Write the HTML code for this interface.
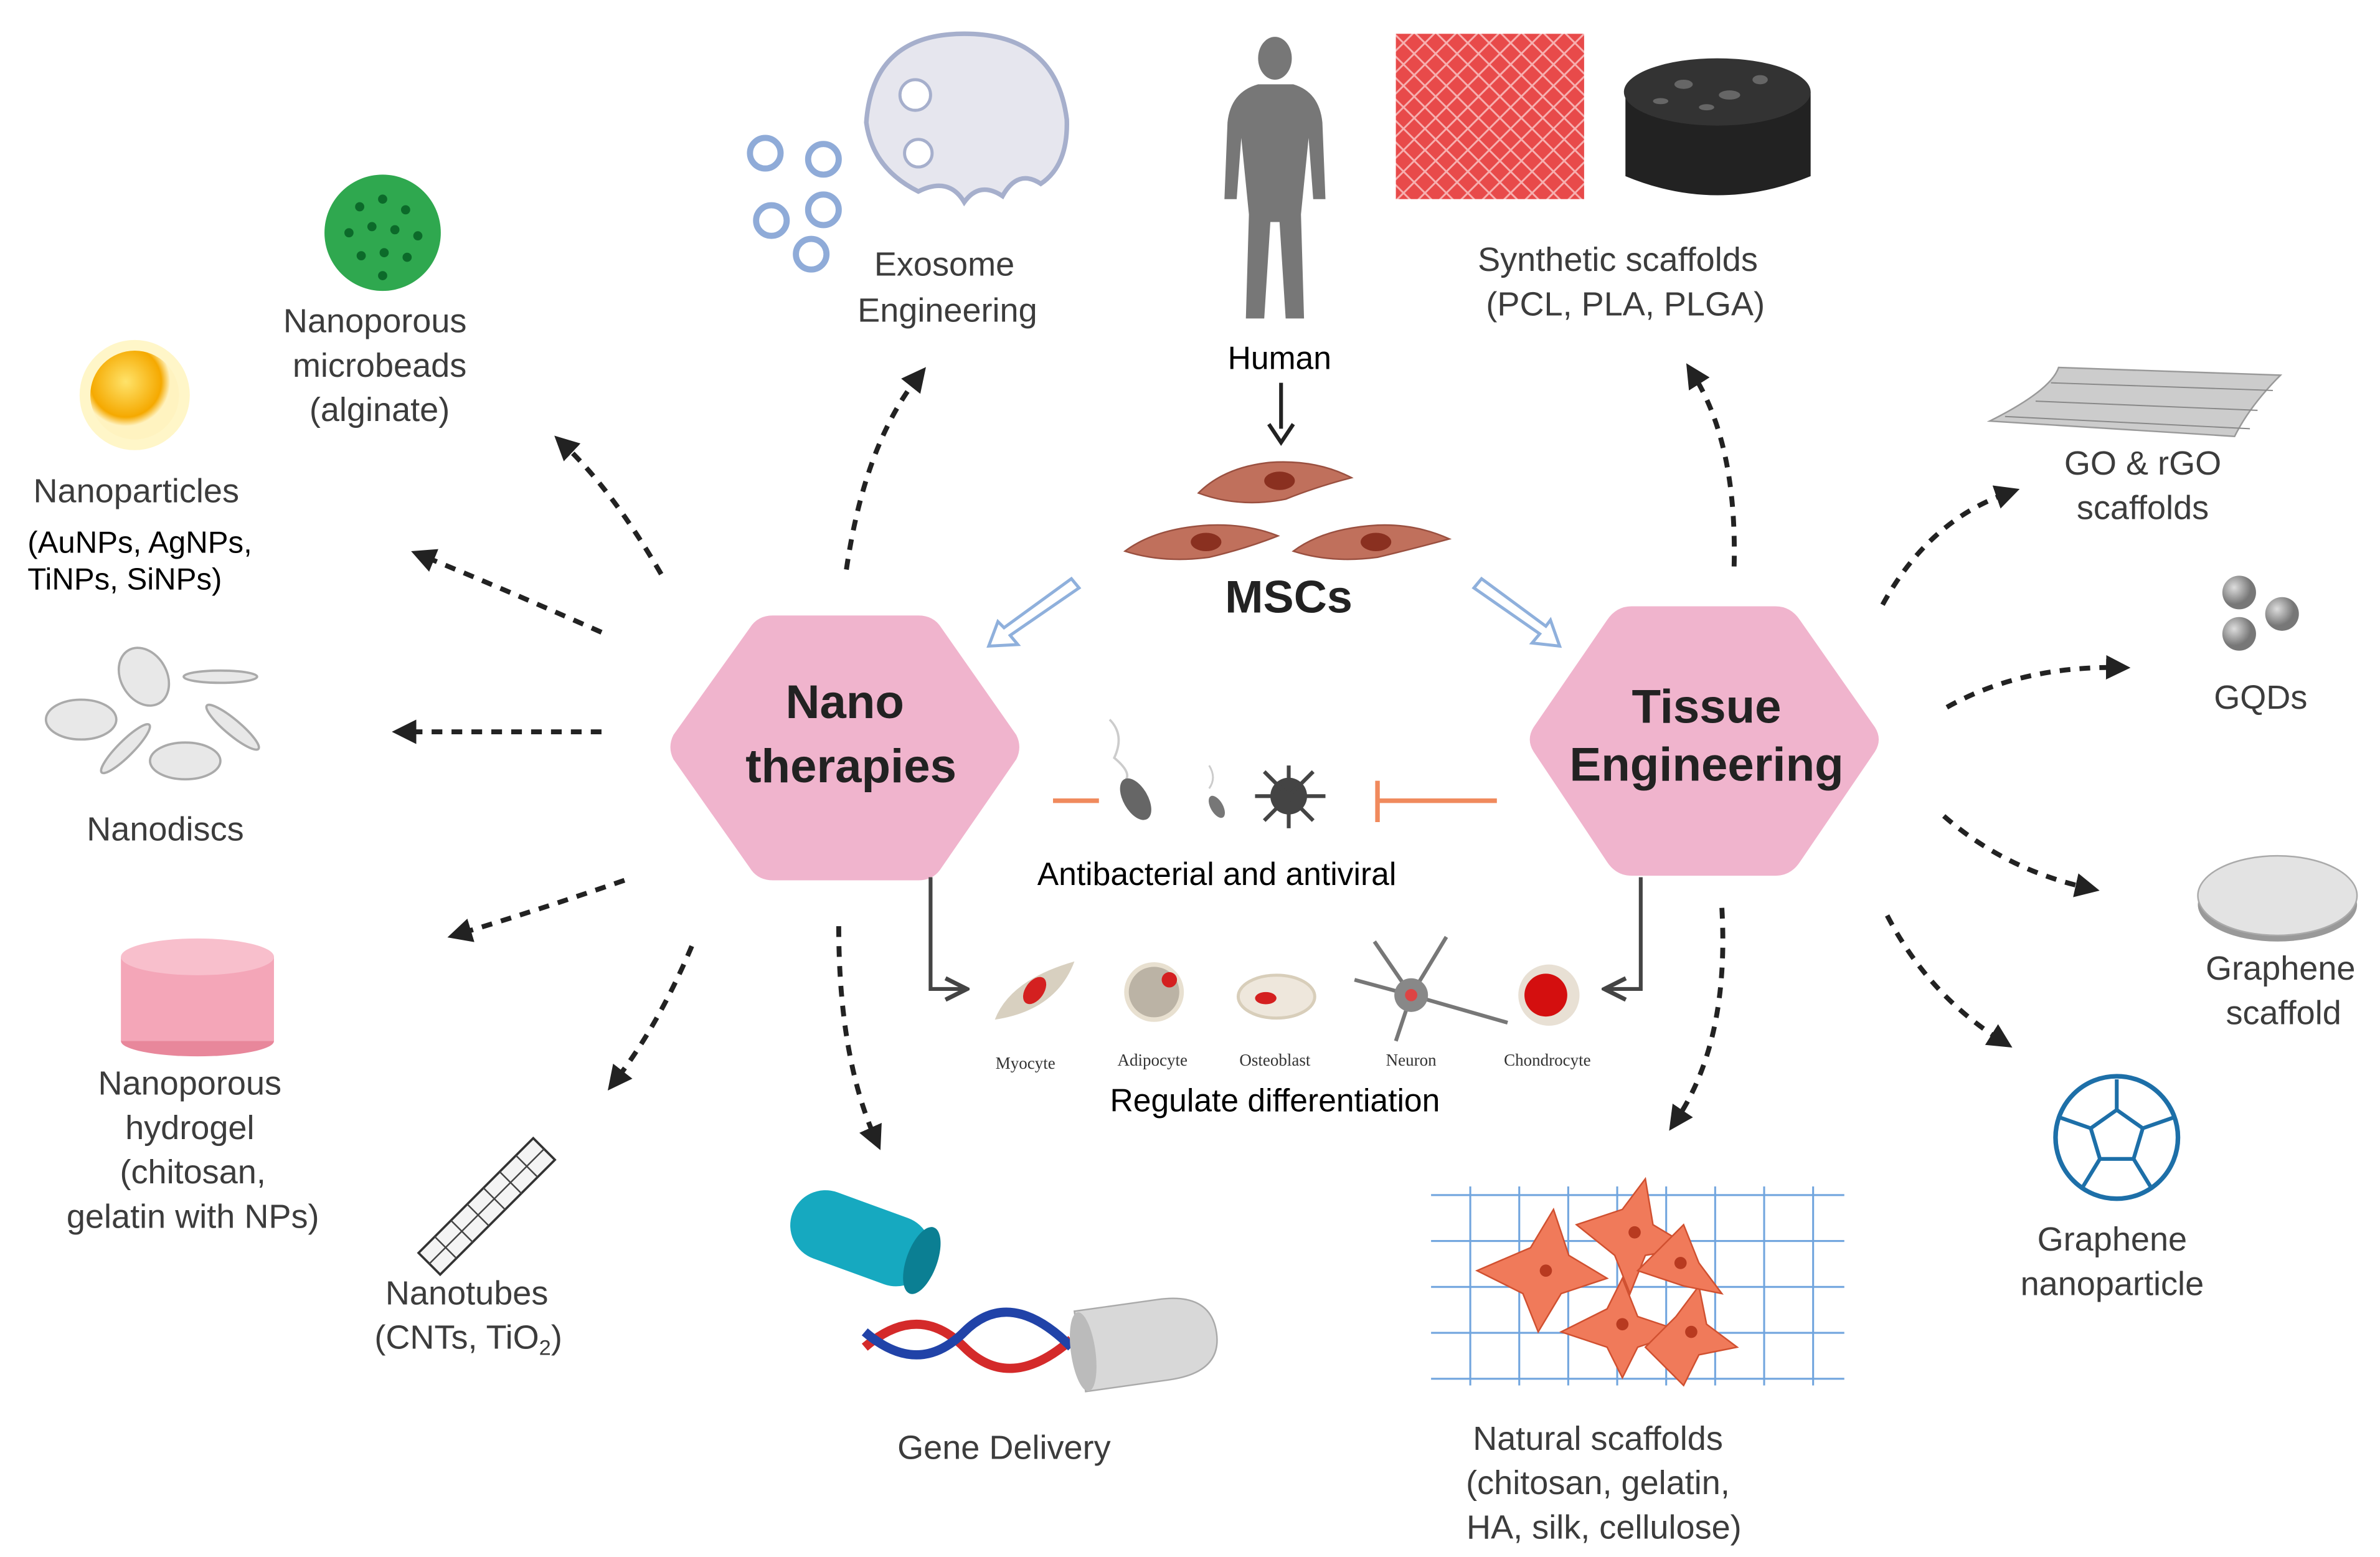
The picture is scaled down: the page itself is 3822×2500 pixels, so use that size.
<!DOCTYPE html>
<html><head><meta charset="utf-8"><style>
html,body{margin:0;padding:0;background:#fff;}
svg{display:block;}
.l{font-family:"Liberation Sans",sans-serif;font-size:22px;fill:#3c3c3c;text-anchor:middle;}
.b{font-family:"Liberation Sans",sans-serif;font-size:21px;fill:#000;text-anchor:middle;}
.s{font-family:"Liberation Serif",serif;font-size:11px;fill:#333;text-anchor:middle;}
.h{font-family:"Liberation Sans",sans-serif;font-size:31px;font-weight:bold;fill:#222;text-anchor:middle;}
.d{fill:none;stroke:#222;stroke-width:3.2;stroke-dasharray:7 6;}
</style></head><body>
<svg width="3822" height="2500" viewBox="0 0 1555 1017" xmlns="http://www.w3.org/2000/svg">
<defs>
<marker id="ah" viewBox="0 0 10 10" refX="5" refY="5" markerWidth="5" markerHeight="5" orient="auto"><path d="M0,0 L10,5 L0,10 Z" fill="#222"/></marker>
<marker id="oa" viewBox="0 0 10 10" refX="8" refY="5" markerWidth="7" markerHeight="7" orient="auto"><path d="M1,1 L9,5 L1,9" fill="none" stroke="#444" stroke-width="1.6"/></marker>
<pattern id="mesh" width="14" height="14" patternUnits="userSpaceOnUse"><rect width="14" height="14" fill="#e84a4a"/><path d="M0,7 L7,0 L14,7 L7,14 Z" fill="none" stroke="#f7b0b0" stroke-width="1.2"/></pattern>
<pattern id="grid" width="32" height="30" patternUnits="userSpaceOnUse"><path d="M0,0 H32 M0,0 V30" stroke="#4d8fd6" stroke-width="2.5" fill="none"/></pattern>
<radialGradient id="gy" cx="40%" cy="35%"><stop offset="0" stop-color="#ffe36a"/><stop offset="0.8" stop-color="#f5a900"/><stop offset="1" stop-color="#fff3c0"/></radialGradient>
<radialGradient id="gs" cx="35%" cy="35%"><stop offset="0" stop-color="#ddd"/><stop offset="1" stop-color="#777"/></radialGradient>
</defs>

<!-- hexagons -->
<path d="M440,480 L490,410 Q495,402 505,402 L600,402 Q610,402 615,410 L664,480 Q668,488 664,496 L615,567 Q610,575 600,575 L505,575 Q495,575 490,567 L440,496 Q436,488 440,480Z" fill="#f0b4cd"/>
<text class="h" x="552" y="469">Nano</text><text class="h" x="556" y="511">therapies</text>
<path d="M1002,475 L1050,405 Q1056,396 1066,396 L1160,396 Q1170,396 1176,405 L1225,475 Q1230,483 1225,491 L1176,563 Q1170,572 1160,572 L1066,572 Q1056,572 1050,563 L1002,491 Q997,483 1002,475Z" fill="#f0b4cd"/>
<text class="h" x="1115" y="472">Tissue</text><text class="h" x="1115" y="510">Engineering</text>

<!-- human -->
<g fill="#777">
<ellipse cx="833" cy="38" rx="11" ry="14"/>
<path d="M822,55 L845,55 Q862,60 864,80 L866,130 L858,130 L855,90 L850,140 L852,208 L840,208 L836,145 L830,145 L826,208 L814,208 L816,140 L811,90 L808,130 L800,130 L802,80 Q804,60 822,55Z"/>
</g>
<text class="b" x="836" y="241">Human</text>
<line x1="837" y1="250" x2="837" y2="280" stroke="#222" stroke-width="2.5"/><path d="M829,277 L837,289 L845,277" fill="none" stroke="#222" stroke-width="2.5"/>

<!-- MSCs cells -->
<g fill="#c0705c" stroke="#9a5040" stroke-width="1">
<path d="M783,322 Q800,305 830,302 Q860,300 883,312 Q860,318 840,326 Q810,332 783,322Z"/>
<path d="M735,360 Q755,345 790,343 Q815,342 835,350 Q815,358 790,364 Q760,368 735,360Z"/>
<path d="M845,360 Q865,345 900,343 Q925,342 947,352 Q925,358 900,364 Q870,368 845,360Z"/>
</g>
<g fill="#8a3020"><ellipse cx="836" cy="314" rx="10" ry="6"/><ellipse cx="788" cy="354" rx="10" ry="6"/><ellipse cx="899" cy="354" rx="10" ry="6"/></g>
<text class="h" x="842" y="400" style="font-size:30px">MSCs</text>

<!-- hollow arrows -->
<g fill="#fff" stroke="#8fb0dc" stroke-width="2">
<path d="M700,378 L705,384 L660,415 L665,421 L646,422 L652,406 L656,410 Z"/>
<path d="M968,378 L963,384 L1006,414 L1001,420 L1019,422 L1013,405 L1010,409 Z"/>
</g>

<!-- antibacterial -->
<line x1="688" y1="523" x2="718" y2="523" stroke="#f08a5d" stroke-width="3"/>
<line x1="900" y1="523" x2="978" y2="523" stroke="#f08a5d" stroke-width="3"/>
<line x1="900" y1="510" x2="900" y2="537" stroke="#f08a5d" stroke-width="3"/>
<path d="M725,470 Q735,480 728,495 Q740,505 735,510" fill="none" stroke="#ccc" stroke-width="1.5"/>
<ellipse cx="742" cy="522" rx="8" ry="15" fill="#666" transform="rotate(-30 742 522)"/>
<path d="M790,500 Q795,508 790,515" fill="none" stroke="#ccc" stroke-width="1.2"/>
<ellipse cx="795" cy="527" rx="4" ry="8" fill="#777" transform="rotate(-30 795 527)"/>
<circle cx="842" cy="520" r="12" fill="#444"/>
<g stroke="#444" stroke-width="2.5"><line x1="826" y1="504" x2="858" y2="536"/><line x1="858" y1="504" x2="826" y2="536"/><line x1="842" y1="500" x2="842" y2="541"/><line x1="820" y1="520" x2="866" y2="520"/></g>
<text class="b" x="795" y="578">Antibacterial and antiviral</text>

<!-- differentiation -->
<path d="M608,573 V646 H630" fill="none" stroke="#444" stroke-width="2.5" marker-end="url(#oa)"/>
<path d="M1072,573 V646 H1050" fill="none" stroke="#444" stroke-width="2.5" marker-end="url(#oa)"/>
<path d="M650,666 Q660,640 702,628 Q690,660 650,666Z" fill="#d8d0c0"/><ellipse cx="676" cy="647" rx="6" ry="10" fill="#d42020" transform="rotate(35 676 647)"/>
<circle cx="754" cy="648" r="18" fill="#bbb3a5" stroke="#e8e0d0" stroke-width="3"/><circle cx="764" cy="640" r="5" fill="#d42020"/>
<ellipse cx="834" cy="651" rx="25" ry="14" fill="#eee7dc" stroke="#d8ceba" stroke-width="2"/><ellipse cx="827" cy="652" rx="7" ry="4" fill="#d42020"/>
<g stroke="#777" stroke-width="2.5" fill="none"><line x1="922" y1="650" x2="985" y2="668"/><line x1="922" y1="650" x2="898" y2="615"/><line x1="922" y1="650" x2="945" y2="612"/><line x1="922" y1="650" x2="885" y2="640"/><line x1="922" y1="650" x2="912" y2="680"/></g>
<circle cx="922" cy="650" r="11" fill="#888"/><circle cx="922" cy="650" r="4" fill="#d44"/>
<circle cx="1012" cy="650" r="20" fill="#e8e0d4"/><circle cx="1010" cy="650" r="14" fill="#d40f0f"/>
<text class="s" x="670" y="698">Myocyte</text><text class="s" x="753" y="696">Adipocyte</text><text class="s" x="833" y="696">Osteoblast</text><text class="s" x="922" y="696">Neuron</text><text class="s" x="1011" y="696">Chondrocyte</text>
<text class="b" x="833" y="726">Regulate differentiation</text>

<!-- dashed arrows -->
<g class="d" marker-end="url(#ah)">
<path d="M432,375 Q400,320 368,290"/>
<path d="M393,413 Q330,385 276,363"/>
<path d="M393,478 L264,478"/>
<path d="M408,575 Q350,595 300,610"/>
<path d="M452,618 Q430,670 402,706"/>
<path d="M548,605 Q548,690 572,744"/>
<path d="M553,372 Q565,290 600,246"/>
<path d="M1133,370 Q1135,290 1106,244"/>
<path d="M1230,395 Q1260,340 1312,322"/>
<path d="M1272,462 Q1320,435 1384,436"/>
<path d="M1270,533 Q1310,568 1364,580"/>
<path d="M1233,598 Q1260,650 1308,680"/>
<path d="M1125,593 Q1130,680 1095,732"/>
</g>

<!-- left icons -->
<circle cx="250" cy="152" r="38" fill="#2fa84f"/>
<g fill="#0c6a2a"><circle cx="235" cy="135" r="3"/><circle cx="250" cy="130" r="3"/><circle cx="265" cy="137" r="3"/><circle cx="228" cy="152" r="3"/><circle cx="243" cy="148" r="3"/><circle cx="258" cy="150" r="3"/><circle cx="273" cy="154" r="3"/><circle cx="236" cy="167" r="3"/><circle cx="251" cy="165" r="3"/><circle cx="266" cy="168" r="3"/><circle cx="250" cy="180" r="3"/></g>
<text class="l" x="245" y="217">Nanoporous</text><text class="l" x="248" y="246">microbeads</text><text class="l" x="248" y="275">(alginate)</text>
<circle cx="88" cy="258" r="36" fill="#fff6c8"/><circle cx="88" cy="258" r="29" fill="url(#gy)"/>
<text class="l" x="89" y="328">Nanoparticles</text>
<text class="b" x="18" y="361" style="text-anchor:start;font-size:20px">(AuNPs, AgNPs,</text><text class="b" x="18" y="385" style="text-anchor:start;font-size:20px">TiNPs, SiNPs)</text>
<g fill="#e8e8e8" stroke="#aaa" stroke-width="1.5">
<ellipse cx="94" cy="442" rx="15" ry="20" transform="rotate(-30 94 442)"/><ellipse cx="144" cy="442" rx="24" ry="4"/>
<ellipse cx="53" cy="470" rx="23" ry="13"/><ellipse cx="152" cy="475" rx="22" ry="5" transform="rotate(40 152 475)"/>
<ellipse cx="82" cy="489" rx="22" ry="5" transform="rotate(-45 82 489)"/><ellipse cx="121" cy="497" rx="23" ry="12"/>
</g>
<text class="l" x="108" y="549">Nanodiscs</text>
<ellipse cx="129" cy="680" rx="50" ry="10" fill="#e8879b"/><rect x="79" y="625" width="100" height="55" fill="#f4a6b8"/><ellipse cx="129" cy="625" rx="50" ry="12" fill="#f8bfcc"/>
<text class="l" x="124" y="715">Nanoporous</text><text class="l" x="124" y="744">hydrogel</text><text class="l" x="126" y="773">(chitosan,</text><text class="l" x="126" y="802">gelatin with NPs)</text>
<g transform="rotate(-45 318 788)"><rect x="265" y="778" width="106" height="20" fill="#f4f4f4" stroke="#333" stroke-width="1.5"/><path d="M265,788 H371 M280,778 V798 M295,778 V798 M310,778 V798 M325,778 V798 M340,778 V798 M355,778 V798" stroke="#444"/></g>
<text class="l" x="305" y="852">Nanotubes</text><text class="l" x="306" y="881">(CNTs, TiO<tspan style="font-size:14px" dy="4">2</tspan><tspan dy="-4">)</tspan></text>

<!-- exosome -->
<path d="M630,22 Q690,22 697,78 Q698,108 680,120 Q665,110 655,128 Q640,118 630,132 Q620,115 600,125 Q570,110 566,80 Q570,22 630,22Z" fill="#e6e6ee" stroke="#a6afcc" stroke-width="3"/>
<circle cx="598" cy="62" r="10" fill="#fff" stroke="#a6afcc" stroke-width="2"/><circle cx="600" cy="100" r="9" fill="#fff" stroke="#a6afcc" stroke-width="2"/>
<g fill="none" stroke="#8fabd8" stroke-width="4"><circle cx="500" cy="100" r="10"/><circle cx="538" cy="104" r="10"/><circle cx="538" cy="137" r="10"/><circle cx="504" cy="144" r="10"/><circle cx="530" cy="166" r="10"/></g>
<text class="l" x="617" y="180">Exosome</text><text class="l" x="619" y="210">Engineering</text>

<!-- gene delivery -->
<g transform="rotate(20 560 808)"><rect x="515" y="785" width="95" height="46" rx="23" fill="#16a9c0"/><ellipse cx="605" cy="808" rx="10" ry="23" fill="#0b7f93"/></g>
<path d="M565,880 Q600,850 630,880 Q660,910 700,875" fill="none" stroke="#d42a2a" stroke-width="6"/>
<path d="M565,870 Q600,900 630,870 Q660,840 700,880" fill="none" stroke="#2143a8" stroke-width="6"/>
<g transform="rotate(-8 750 875)"><path d="M705,850 H760 Q795,850 795,877 Q795,903 760,903 H705 Z" fill="#d8d8d8" stroke="#aaa"/><ellipse cx="707" cy="877" rx="8" ry="26" fill="#bbb"/></g>
<text class="l" x="656" y="953">Gene Delivery</text>

<!-- synthetic scaffolds -->
<rect x="912" y="22" width="123" height="108" fill="url(#mesh)"/>
<path d="M1062,60 V115 Q1122,140 1183,115 V60 Z" fill="#222"/><ellipse cx="1122" cy="60" rx="61" ry="22" fill="#333"/>
<g fill="#666"><ellipse cx="1100" cy="55" rx="6" ry="3"/><ellipse cx="1130" cy="62" rx="7" ry="3"/><ellipse cx="1150" cy="52" rx="5" ry="3"/><ellipse cx="1115" cy="70" rx="5" ry="2"/><ellipse cx="1085" cy="66" rx="5" ry="2"/></g>
<text class="l" x="1057" y="177">Synthetic scaffolds</text><text class="l" x="1062" y="206">(PCL, PLA, PLGA)</text>

<!-- natural scaffolds -->
<rect x="935" y="775" width="270" height="130" fill="url(#grid)" opacity="0.8"/>
<g fill="#f07a5a" stroke="#d05030"><path d="M965,830 L1000,815 L1015,790 L1025,820 L1050,835 L1020,845 L1005,870 L995,845 Z"/><path d="M1030,800 L1060,790 L1075,770 L1080,800 L1105,815 L1075,820 L1065,845 L1055,820 Z"/><path d="M1020,870 L1050,855 L1060,835 L1070,860 L1100,870 L1070,880 L1060,900 L1050,880 Z"/><path d="M1075,880 L1095,860 L1110,840 L1115,865 L1135,880 L1110,885 L1100,905 Z"/><path d="M1070,830 L1085,815 L1100,800 L1110,825 L1125,845 L1100,840 Z"/></g>
<g fill="#b83a20"><circle cx="1010" cy="830" r="4"/><circle cx="1068" cy="805" r="4"/><circle cx="1060" cy="865" r="4"/><circle cx="1105" cy="870" r="4"/><circle cx="1098" cy="825" r="4"/></g>
<text class="l" x="1044" y="947">Natural scaffolds</text><text class="l" x="1044" y="976">(chitosan, gelatin,</text><text class="l" x="1048" y="1005">HA,  silk, cellulose)</text>

<!-- right icons -->
<path d="M1300,275 Q1340,255 1345,240 L1490,245 Q1470,265 1460,285 Z" fill="#ccc" stroke="#999"/>
<path d="M1310,272 L1470,280 M1330,262 L1475,268 M1340,250 L1485,255" stroke="#888" stroke-width="0.8"/>
<text class="l" x="1400" y="310">GO &amp; rGO</text><text class="l" x="1400" y="339">scaffolds</text>
<circle cx="1463" cy="387" r="11" fill="url(#gs)"/><circle cx="1491" cy="401" r="11" fill="url(#gs)"/><circle cx="1463" cy="414" r="11" fill="url(#gs)"/>
<text class="l" x="1477" y="463">GQDs</text>
<ellipse cx="1488" cy="591" rx="52" ry="24" fill="#999"/><ellipse cx="1488" cy="585" rx="52" ry="26" fill="#e3e3e3" stroke="#aaa"/>
<text class="l" x="1490" y="640">Graphene</text><text class="l" x="1492" y="669">scaffold</text>
<circle cx="1383" cy="743" r="40" fill="#fff" stroke="#1d6fa8" stroke-width="3"/>
<g fill="none" stroke="#1d6fa8" stroke-width="2.5"><polygon points="1383,725 1400,737 1394,757 1372,757 1366,737"/><path d="M1383,725 V705 M1400,737 L1420,730 M1394,757 L1405,775 M1372,757 L1361,775 M1366,737 L1346,730"/></g>
<text class="l" x="1380" y="817">Graphene</text><text class="l" x="1380" y="846">nanoparticle</text>
</svg>
</body></html>
